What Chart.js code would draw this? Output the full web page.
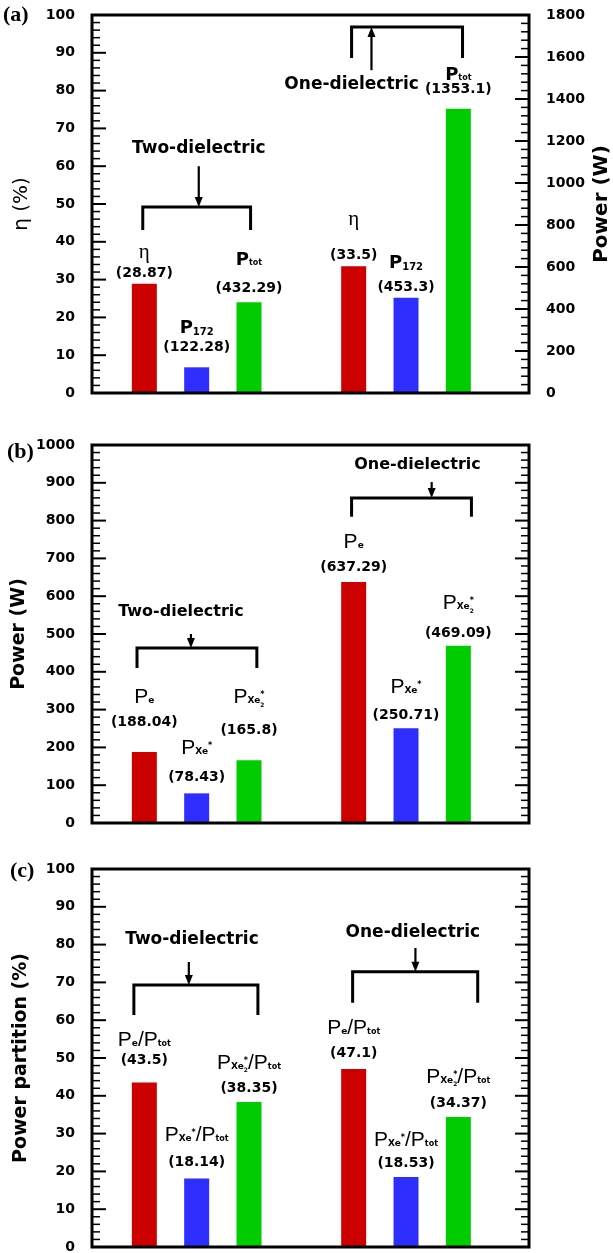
<!DOCTYPE html>
<html>
<head>
<meta charset="utf-8">
<title>Power partition</title>
<script src="https://cdn.jsdelivr.net/npm/chart.js@4.4.0/dist/chart.umd.min.js"></script>
<style>
    html, body { margin: 0; padding: 0; background: #fff; overflow: hidden; }
    body { width: 613px; height: 1253px; position: relative; }
    .panel { position: absolute; left: 0; width: 613px; }
</style>
</head>
<body>
<div class="panel" style="top:0;height:410px"><canvas id="chartA" width="613" height="410"></canvas></div>
<div class="panel" style="top:410px;height:430px"><canvas id="chartB" width="613" height="430"></canvas></div>
<div class="panel" style="top:840px;height:420px"><canvas id="chartC" width="613" height="420"></canvas></div>
<script>
// Values
const groups = ['Two-dielectric', 'One-dielectric'];

// (a) efficiency and power
const etaPct = [28.87, 33.5];
const p172W = [122.28, 453.3];
const pTotW = [432.29, 1353.1];

// (b) power
const peW = [188.04, 637.29];
const pXeW = [78.43, 250.71];
const pXe2W = [165.8, 469.09];

// (c) power partition
const peShare = [43.5, 47.1];
const pXeShare = [18.14, 18.53];
const pXe2Share = [38.35, 34.37];

// tick labels
const pctTicks = [0, 10, 20, 30, 40, 50, 60, 70, 80, 90, 100];
const powerTicksA = [0, 200, 400, 600, 800, 1000, 1200, 1400, 1600, 1800];
const powerTicksB = [0, 100, 200, 300, 400, 500, 600, 700, 800, 900, 1000];

const FONT = 'DejaVu Sans';
const RED = '#cc0000', BLUE = '#2e2eff', GREEN = '#00cc00';
const slotX = [[1, 5], [2, 6], [3, 7]];   // bar slot of series i in group g

// small helpers for the label pieces
const big = t => ({ t: t, f: 'bold 18px ' + FONT });
const reg = t => ({ t: t, f: '21px Liberation Sans' });
const sub = (t, dy, size) => ({ t: t, f: 'bold ' + (size || 9) + 'px ' + FONT, dy: dy });
const xeStar = [sub('Xe', 4), { t: '*', f: 'bold 8px ' + FONT, dy: -2 }];
const xe2Star = [sub('Xe', 4), { t: '*', f: 'bold 8px ' + FONT, dy: -2, stay: true }, sub('2', 8, 6)];

function drawRich(ctx, parts, cx, cy) {
    let total = 0;
    parts.forEach(p => { ctx.font = p.f; if (!p.stay) total += ctx.measureText(p.t).width; });
    let x = cx - total / 2;
    ctx.textAlign = 'left';
    ctx.textBaseline = 'middle';
    parts.forEach(p => {
        ctx.font = p.f;
        ctx.fillText(p.t, x, cy + (p.dy || 0));
        if (!p.stay) x += ctx.measureText(p.t).width;
    });
}

function drawArrow(ctx, x, y0, y1) {
    const dir = y1 > y0 ? 1 : -1;
    ctx.lineWidth = 2.2;
    ctx.beginPath();
    ctx.moveTo(x, y0);
    ctx.lineTo(x, y1 - dir * 8);
    ctx.stroke();
    ctx.beginPath();
    ctx.moveTo(x, y1);
    ctx.lineTo(x - 4, y1 - dir * 10);
    ctx.lineTo(x + 4, y1 - dir * 10);
    ctx.closePath();
    ctx.fill();
}

// inward major/minor ticks on both sides
function drawTickMarks(chart, o) {
    const { ctx, chartArea: a } = chart;
    const sides = [[chart.scales.y, a.left, 1, o.minor], [chart.scales[o.right], a.right, -1, o.minorRight]];
    sides.forEach(side => {
        const s = side[0], x0 = side[1], dir = side[2], step = side[3];
        const n = Math.round((s.max - s.min) / step);
        for (let i = 0; i <= n; i++) {
            const y = s.getPixelForValue(s.min + i * step);
            const major = i % 5 === 0;
            ctx.lineWidth = major ? 2 : 1.5;
            ctx.beginPath();
            ctx.moveTo(x0, y);
            ctx.lineTo(x0 + dir * (major ? 14 : 8), y);
            ctx.stroke();
        }
    });
}

// bar labels, brackets, arrows, frame and panel tag
function decorPlugin(cfg) {
    return {
        id: 'decor',
        afterDatasetsDraw(chart) {
            const { ctx } = chart;
            const xs = chart.scales.x, ys = chart.scales.y;
            ctx.save();
            ctx.fillStyle = '#000';
            ctx.strokeStyle = '#000';
            cfg.series.forEach((s, i) => {
                s.values.forEach((v, g) => {
                    const x = xs.getPixelForValue(slotX[i][g]);
                    drawRich(ctx, s.name, x, ys.getPixelForValue(cfg.nameY[i][g]));
                    drawRich(ctx, [{ t: '(' + v + ')', f: 'bold 14px ' + FONT }], x, ys.getPixelForValue(cfg.valY[i][g]));
                });
            });
            cfg.groups.forEach((gr, g) => {
                ctx.font = 'bold ' + gr.size + 'px ' + FONT;
                ctx.textAlign = 'center';
                ctx.textBaseline = 'middle';
                ctx.fillText(groups[g], xs.getPixelForValue(gr.tx), ys.getPixelForValue(gr.ty));
                const x1 = xs.getPixelForValue(gr.br[0]), x2 = xs.getPixelForValue(gr.br[1]);
                const top = ys.getPixelForValue(gr.br[2]), bottom = ys.getPixelForValue(gr.br[3]);
                ctx.lineWidth = 3;
                ctx.beginPath();
                ctx.moveTo(x1, bottom);
                ctx.lineTo(x1, top);
                ctx.lineTo(x2, top);
                ctx.lineTo(x2, bottom);
                ctx.stroke();
                drawArrow(ctx, xs.getPixelForValue(gr.arrow[0]), ys.getPixelForValue(gr.arrow[1]), ys.getPixelForValue(gr.arrow[2]));
            });
            ctx.restore();
        },
        afterDraw(chart) {
            const { ctx, chartArea: a } = chart;
            const o = cfg.frame;
            ctx.save();
            ctx.strokeStyle = '#000';
            ctx.fillStyle = '#000';
            drawTickMarks(chart, o);
            ctx.lineWidth = 3;
            ctx.strokeRect(a.left, a.top, a.right - a.left, a.bottom - a.top);
            ctx.textAlign = 'left';
            ctx.textBaseline = 'middle';
            ctx.font = 'bold 22px Liberation Serif';
            ctx.fillText(o.tag[0], o.tag[1], o.tag[2]);
            if (o.rightTitle) {
                ctx.translate(602, (a.top + a.bottom) / 2);
                ctx.rotate(-Math.PI / 2);
                ctx.textAlign = 'center';
                ctx.font = 'bold 20px ' + FONT;
                ctx.fillText(o.rightTitle, 0, 0);
            }
            ctx.restore();
        }
    };
}

function valueAxis(position, min, max, tickList, width, title) {
    const axis = {
        position: position,
        min: min,
        max: max,
        grid: { display: false },
        border: { display: false },
        ticks: {
            color: '#000',
            padding: 9,
            autoSkip: false,
            font: { family: FONT, size: 14, weight: 'bold' },
            callback: v => String(v)
        },
        afterBuildTicks: s => { s.ticks = tickList.map(v => ({ value: v })); },
        afterFit: s => {
            s.width = width;
            s.paddingTop = 0;      // let the end labels overhang the frame
            s.paddingBottom = 0;
        }
    };
    if (title) axis.title = title;
    return axis;
}

function makeChart(id, cfg) {
    const datasets = cfg.series.map((s, i) => ({
        label: s.label,
        data: s.values.map((v, g) => ({ x: slotX[i][g], y: v })),
        yAxisID: s.axis,
        backgroundColor: s.color,
        borderWidth: 0,
        grouped: false,
        maxBarThickness: 25
    }));
    const scales = {
        x: {
            type: 'linear', min: 0, max: 8.35, display: false, offset: false,
            afterBuildTicks: s => { s.ticks = [1, 2, 3, 4, 5, 6, 7].map(v => ({ value: v })); }
        },
        y: cfg.y
    };
    if (cfg.y1) scales.y1 = cfg.y1;
    return new Chart(document.getElementById(id).getContext('2d'), {
        type: 'bar',
        data: { datasets: datasets },
        options: {
            responsive: false,
            animation: false,
            devicePixelRatio: 1,
            layout: { padding: cfg.padding },
            scales: scales,
            plugins: {
                legend: { display: false },
                tooltip: { enabled: false }
            }
        },
        plugins: [decorPlugin(cfg)]
    });
}

// (a)
makeChart('chartA', {
    padding: { top: 15, bottom: 17, left: 0, right: 0 },
    series: [
        { label: 'η', values: etaPct, axis: 'y', color: RED, name: [{ t: 'η', f: '21px Liberation Serif' }] },
        { label: 'P172', values: p172W, axis: 'y1', color: BLUE, name: [big('P'), sub('172', 4, 10)] },
        { label: 'Ptot', values: pTotW, axis: 'y1', color: GREEN, name: [big('P'), sub('tot', 3, 8)] }
    ],
    y: valueAxis('left', 0, 100, pctTicks, 92, {
        display: true, text: 'η (%)', color: '#000',
        font: { family: FONT, size: 20 }, padding: { top: 10, bottom: 0 }
    }),
    y1: valueAxis('right', 0, 1800, powerTicksA, 84),
    frame: { minor: 2, right: 'y1', minorRight: 40, tag: ['(a)', 3, 15], rightTitle: 'Power (W)' },
    nameY: [[37.3, 45.8], [17.2, 34.4], [35.2, 84.1]],
    valY: [[31.7, 36.5], [12.2, 28.0], [27.8, 80.2]],
    groups: [
        { tx: 2.04, ty: 64.6, size: 17, arrow: [2.04, 60.0, 49.2], br: [0.97, 3.03, 49.2, 43.1] },
        { tx: 4.96, ty: 81.5, size: 17, arrow: [5.34, 85.4, 96.8], br: [4.96, 7.08, 96.8, 88.6] }
    ]
});

// (b)
makeChart('chartB', {
    padding: { top: 35, bottom: 17, left: 0, right: 84 },
    series: [
        { label: 'Pe', values: peW, axis: 'y', color: RED, name: [reg('P'), sub('e', 4, 9)] },
        { label: 'PXe*', values: pXeW, axis: 'y', color: BLUE, name: [reg('P')].concat(xeStar) },
        { label: 'PXe2*', values: pXe2W, axis: 'y', color: GREEN, name: [reg('P')].concat(xe2Star) }
    ],
    y: valueAxis('left', 0, 1000, powerTicksB, 92, {
        display: true, text: 'Power (W)', color: '#000',
        font: { family: FONT, size: 19, weight: 'bold' }, padding: { top: 8, bottom: 0 }
    }),
    frame: { minor: 20, right: 'y', minorRight: 20, tag: ['(b)', 7, 42] },
    nameY: [[333, 743], [198, 360], [333, 582]],
    valY: [[267, 675], [122, 286], [246, 503]],
    groups: [
        { tx: 1.70, ty: 558, size: 16, arrow: [1.89, 500, 463], br: [0.86, 3.15, 463, 410] },
        { tx: 6.22, ty: 947, size: 16, arrow: [6.49, 902, 860], br: [4.96, 7.25, 860, 810] }
    ]
});

// (c)
const overTot = [{ t: '/', f: '21px Liberation Sans' }, reg('P'), sub('tot', 4, 8)];
makeChart('chartC', {
    padding: { top: 29, bottom: 13, left: 0, right: 84 },
    series: [
        { label: 'Pe/Ptot', values: peShare, axis: 'y', color: RED, name: [reg('P'), sub('e', 4, 9)].concat(overTot) },
        { label: 'PXe*/Ptot', values: pXeShare, axis: 'y', color: BLUE, name: [reg('P')].concat(xeStar, overTot) },
        { label: 'PXe2*/Ptot', values: pXe2Share, axis: 'y', color: GREEN, name: [reg('P')].concat(xe2Star, overTot) }
    ],
    y: valueAxis('left', 0, 100, pctTicks, 92, {
        display: true, text: 'Power partition (%)', color: '#000',
        font: { family: FONT, size: 19, weight: 'bold' }, padding: { top: 10, bottom: 0 }
    }),
    frame: { minor: 2, right: 'y', minorRight: 2, tag: ['(c)', 10, 31] },
    nameY: [[54.8, 57.9], [29.6, 28.3], [48.7, 45.0]],
    valY: [[49.5, 51.3], [22.5, 22.2], [42.1, 38.1]],
    groups: [
        { tx: 1.91, ty: 81.2, size: 17, arrow: [1.85, 75.4, 69.3], br: [0.80, 3.17, 69.3, 61.4] },
        { tx: 6.13, ty: 83.3, size: 17, arrow: [6.18, 79.1, 72.8], br: [4.98, 7.37, 72.8, 64.6] }
    ]
});
</script>
</body>
</html>
